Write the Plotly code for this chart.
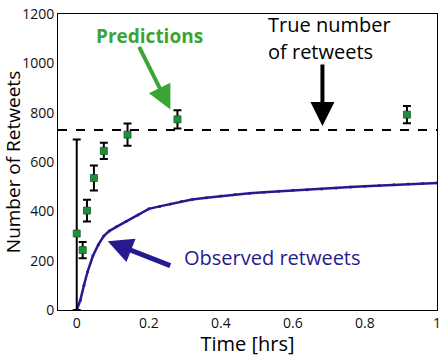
import plotly.graph_objects as go

# Predictions (time in hrs, predicted retweets, error bars)
pred_t = [0.0, 0.0165, 0.0284, 0.0477, 0.0752, 0.141, 0.2796, 0.9166]
pred_y = [310, 243, 403, 535, 645, 711, 773, 792]
err_up = [381, 33, 44, 51, 33, 45, 37, 35]
err_dn = [310, 33, 44, 51, 33, 45, 37, 35]

# Observed retweets curve
obs_t = [0, 0.01, 0.02, 0.03, 0.045, 0.06, 0.075, 0.09, 0.11, 0.137, 0.17, 0.2,
         0.23, 0.26, 0.29, 0.32, 0.36, 0.40, 0.44, 0.48, 0.52, 0.56, 0.60, 0.64,
         0.68, 0.72, 0.76, 0.80, 0.84, 0.88, 0.92, 0.96, 1.0]
obs_y = [0, 40, 100, 155, 220, 265, 300, 320, 337, 359, 385, 410,
         420, 430, 440, 448, 455, 462, 468, 473, 477, 481, 485, 488,
         491, 495, 499, 502, 505, 508, 511, 513, 515]

true_value = 730

x_ticks = [0, 0.2, 0.4, 0.6, 0.8, 1]
x_tick_labels = ["0", "0.2", "0.4", "0.6", "0.8", "1"]
y_ticks = [0, 200, 400, 600, 800, 1000, 1200]

FONT = "Open Sans"
BLUE = "#261a8f"
GREEN = "#3aa535"

fig = go.Figure()

fig.add_trace(go.Scatter(
    x=obs_t, y=obs_y, mode="lines+markers",
    line=dict(color=BLUE, width=2.5),
    marker=dict(color=BLUE, size=3),
    showlegend=False,
))

fig.add_trace(go.Scatter(
    x=pred_t, y=pred_y, mode="markers",
    marker=dict(symbol="square", size=7, color="#1f8f3a",
                line=dict(color="#145a25", width=0.8)),
    error_y=dict(type="data", symmetric=False, array=err_up, arrayminus=err_dn,
                 color="black", thickness=2, width=4),
    showlegend=False,
))

fig.add_shape(type="line", xref="paper", yref="y", x0=0, x1=1,
              y0=true_value, y1=true_value,
              line=dict(color="black", width=2, dash="dash"))

W, H = 445, 357
L, R, T, B = 58, 4, 9, 47
pw, ph = W - L - R, H - T - B


def px(x):
    return (x - L) / pw


def py(y):
    return (H - B - y) / ph


annotations = [
    # arrows
    dict(x=0.260, y=813, xref="x", yref="y", ax=-32, ay=-64, axref="pixel", ayref="pixel",
         showarrow=True, arrowhead=2, arrowsize=1.2, arrowwidth=4, arrowcolor=GREEN, text=""),
    dict(x=0.682, y=746, xref="x", yref="y", ax=0, ay=-63, axref="pixel", ayref="pixel",
         showarrow=True, arrowhead=2, arrowsize=1.2, arrowwidth=4, arrowcolor="black", text=""),
    dict(x=0.086, y=279, xref="x", yref="y", ax=64, ay=25, axref="pixel", ayref="pixel",
         showarrow=True, arrowhead=2, arrowsize=1.0, arrowwidth=5, arrowcolor=BLUE, text=""),
    # labels
    dict(x=px(150), y=py(31.5), xref="paper", yref="paper", showarrow=False,
         text="<b>Predictions</b>", font=dict(family=FONT, size=19, color=GREEN),
         xanchor="center", yanchor="middle"),
    dict(x=px(268), y=py(20), xref="paper", yref="paper", showarrow=False,
         text="True number", font=dict(family=FONT, size=20, color="black"),
         xanchor="left", yanchor="middle"),
    dict(x=px(268), y=py(47), xref="paper", yref="paper", showarrow=False,
         text="of retweets", font=dict(family=FONT, size=20, color="black"),
         xanchor="left", yanchor="middle"),
    dict(x=px(183), y=py(257), xref="paper", yref="paper", showarrow=False,
         text="Observed retweets", font=dict(family=FONT, size=20, color=BLUE),
         xanchor="left", yanchor="middle"),
]

fig.update_layout(
    width=W, height=H,
    margin=dict(l=L, r=R, t=T, b=B),
    paper_bgcolor="white", plot_bgcolor="white",
    font=dict(family=FONT, color="black"),
    annotations=annotations,
    xaxis=dict(range=[-0.052, 1], tickvals=x_ticks, ticktext=x_tick_labels,
               showgrid=False, zeroline=False, showline=True, mirror=True,
               linecolor="black", linewidth=1, ticks="", ticklabeloverflow="allow",
               tickfont=dict(family=FONT, size=14, color="#111"),
               title=dict(text="Time [hrs]", font=dict(family=FONT, size=20), standoff=2)),
    yaxis=dict(range=[0, 1200], tickvals=y_ticks,
               showgrid=False, zeroline=False, showline=True, mirror=True,
               linecolor="black", linewidth=1, ticks="", ticklabeloverflow="allow",
               tickfont=dict(family=FONT, size=14, color="#111"),
               title=dict(text="Number of Retweets", font=dict(family=FONT, size=19), standoff=2)),
)

fig.write_html("out.html", config={"displayModeBar": False},
               post_script="document.body.style.margin='0';")
